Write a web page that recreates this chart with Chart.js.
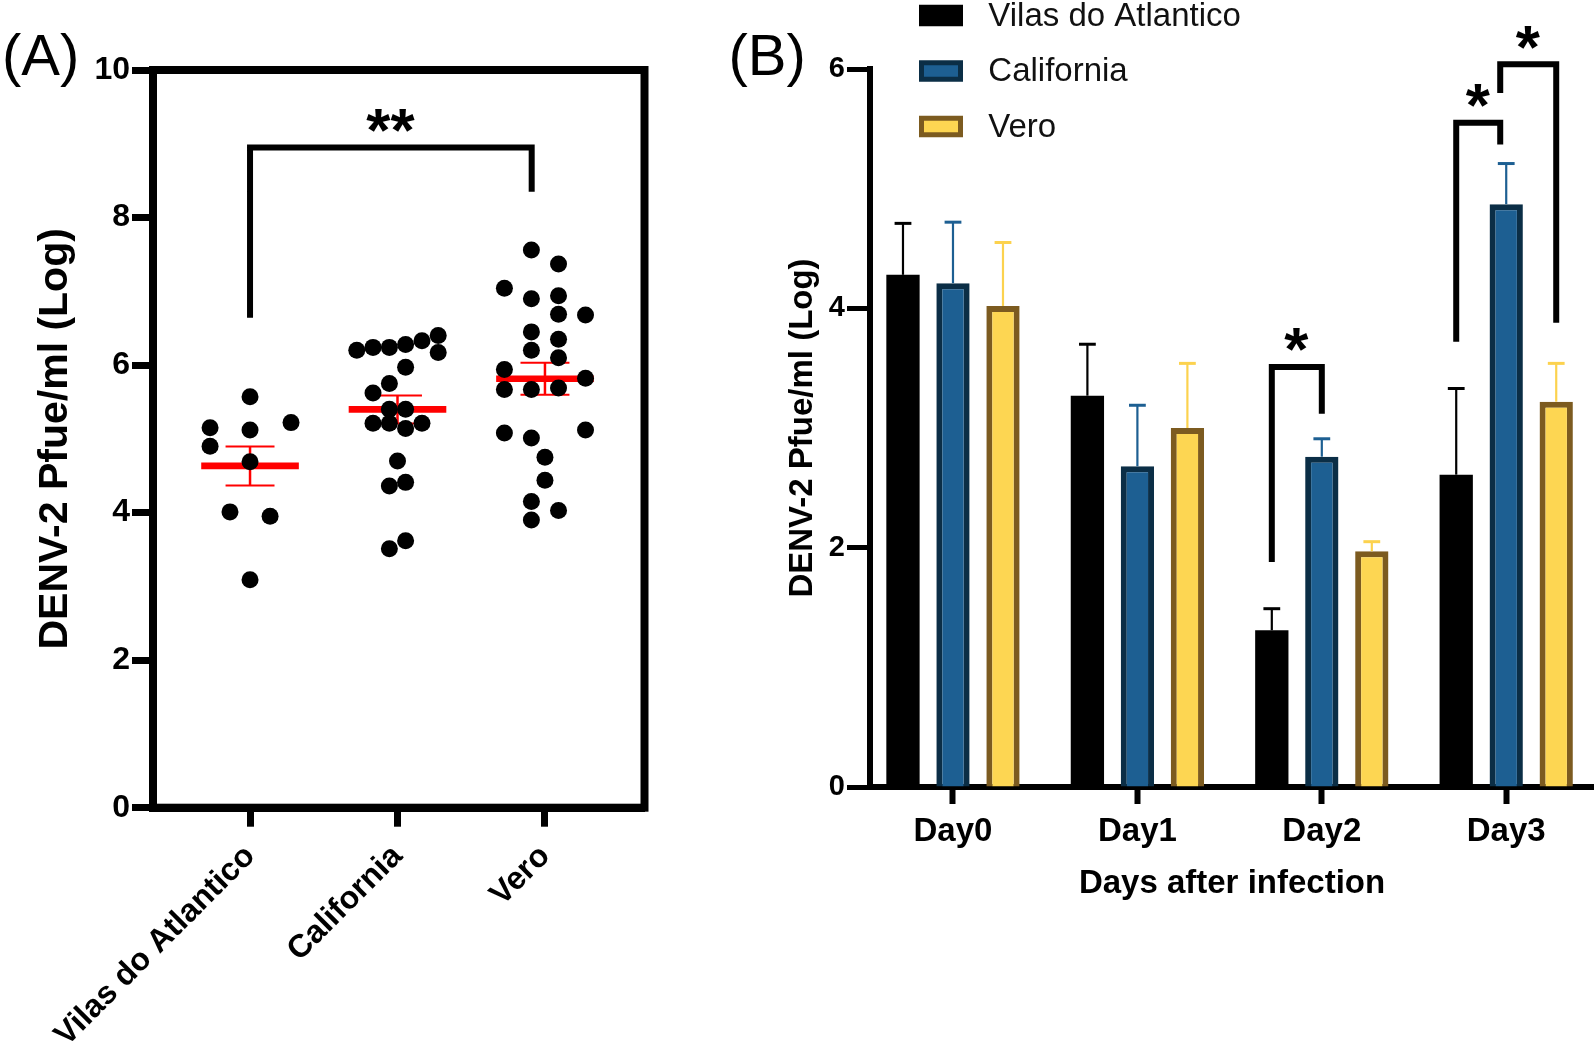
<!DOCTYPE html>
<html>
<head>
<meta charset="utf-8">
<script src="https://cdn.jsdelivr.net/npm/chart.js@4.4.1/dist/chart.umd.min.js"></script>
<style>
  html, body { margin: 0; padding: 0; background: #fff; }
  #wrapA { position: absolute; left: 0; top: 0; width: 690px; height: 1047px; }
  #wrapB { position: absolute; left: 700px; top: 0; width: 894px; height: 1047px; }
</style>
</head>
<body>
<div id="wrapA"><canvas id="chartA" width="690" height="1047"></canvas></div>
<div id="wrapB"><canvas id="chartB" width="894" height="1047"></canvas></div>
<script>
// ---- panel A: individual titres per population ----
var groupsA = ['Vilas do Atlantico', 'California', 'Vero'];

var vilasValues = [5.57, 5.15, 5.12, 5.22, 4.90, 4.69, 4.01, 3.95, 3.09];
var vilasSpread = [0, -0.271, 0, 0.278, -0.271, 0, -0.136, 0.136, 0];

var califValues = [6.20, 6.24, 6.24, 6.28, 6.33, 6.40, 6.17, 5.97, 5.75, 5.62, 5.40,
                   5.40, 5.21, 5.21, 5.14, 5.21, 4.70, 4.36, 4.41, 3.51, 3.62];
var califSpread = [-0.276, -0.166, -0.055, 0.055, 0.166, 0.276, 0.276, 0.055, -0.055, -0.166, -0.055,
                   0.055, -0.166, -0.055, 0.055, 0.166, 0, -0.055, 0.055, -0.055, 0.055];

var veroValues = [7.56, 7.37, 7.04, 6.90, 6.94, 6.69, 6.68, 6.45, 6.35, 6.20, 6.10, 5.94,
                  5.82, 5.67, 5.67, 5.69, 5.08, 5.12, 5.01, 4.75, 4.44, 4.15, 4.03, 3.90];
var veroSpread = [-0.092, 0.092, -0.275, -0.092, 0.092, 0.092, 0.275, -0.092, 0.092, -0.092, 0.092, -0.275,
                  0.275, -0.275, -0.092, 0.092, -0.275, 0.275, -0.092, 0, 0, -0.092, 0.092, -0.092];

var yTicksA = [0, 2, 4, 6, 8, 10];

// significance bracket A (x in group units, y in log units)
var bracketA = { from: 0, to: 1.91, top: 8.95, leftEnd: 6.64, rightEnd: 8.35, label: '**' };

// ---- panel B: titre over days ----
var days = ['Day0', 'Day1', 'Day2', 'Day3'];
var seriesNames = ['Vilas do Atlantico', 'California', 'Vero'];
var vilasMean = [4.28, 3.27, 1.31, 2.61];
var vilasErr = [0.43, 0.43, 0.18, 0.72];
var califMean = [4.21, 2.68, 2.76, 4.87];
var califErr = [0.51, 0.51, 0.15, 0.34];
var veroMean = [4.02, 3.00, 1.97, 3.22];
var veroErr = [0.53, 0.54, 0.08, 0.32];
var yTicksB = [0, 2, 4, 6];

// brackets B: day index, the two series compared, heights in log units
var bracketsB = [
  { day: 2, from: 0, to: 1, top: 3.51, leftEnd: 1.88, rightEnd: 3.12, label: '*' },
  { day: 3, from: 0, to: 1, top: 5.55, leftEnd: 3.72, rightEnd: 5.37, label: '*' },
  { day: 3, from: 1, to: 2, top: 6.04, leftEnd: 5.80, rightEnd: 3.88, label: '*' }
];

var FONT = "'Liberation Sans', Arial, Helvetica, sans-serif";
Chart.defaults.font.family = FONT;
Chart.defaults.color = '#000';

function meanOf(a) {
  var s = 0;
  a.forEach(function (v) { s += v; });
  return s / a.length;
}
function semOf(a) {
  var m = meanOf(a), s = 0;
  a.forEach(function (v) { s += (v - m) * (v - m); });
  return Math.sqrt(s / (a.length - 1)) / Math.sqrt(a.length);
}

// draws text so that its ink box is centred on (cx, cy)
function inkText(ctx, text, cx, cy) {
  var m = ctx.measureText(text);
  ctx.textAlign = 'left';
  ctx.textBaseline = 'alphabetic';
  var x = cx + (m.actualBoundingBoxLeft - m.actualBoundingBoxRight) / 2;
  var y = cy + (m.actualBoundingBoxAscent - m.actualBoundingBoxDescent) / 2;
  ctx.fillText(text, x, y);
}

function drawBracket(ctx, x1, x2, yTop, y1, y2, label) {
  ctx.save();
  ctx.strokeStyle = '#000';
  ctx.lineWidth = 6;
  ctx.lineJoin = 'miter';
  ctx.lineCap = 'butt';
  ctx.beginPath();
  ctx.moveTo(x1, y1);
  ctx.lineTo(x1, yTop);
  ctx.lineTo(x2, yTop);
  ctx.lineTo(x2, y2);
  ctx.stroke();
  ctx.fillStyle = '#000';
  ctx.font = 'bold 62px ' + FONT;
  inkText(ctx, label, (x1 + x2) / 2, yTop - 27);
  ctx.restore();
}

function dots(values, spread, g) {
  return values.map(function (v, i) { return { x: g + spread[i], y: v }; });
}

var groupValues = [vilasValues, califValues, veroValues];

var panelAPlugin = {
  id: 'panelA',
  beforeDatasetsDraw: function (chart) {
    var ctx = chart.ctx, xs = chart.scales.x, ys = chart.scales.y;
    ctx.save();
    ctx.strokeStyle = '#ff0000';
    groupValues.forEach(function (vals, g) {
      var m = meanOf(vals), e = semOf(vals);
      var ym = ys.getPixelForValue(m), yHi = ys.getPixelForValue(m + e), yLo = ys.getPixelForValue(m - e);
      ctx.lineWidth = 2.5;
      ctx.beginPath();
      ctx.moveTo(xs.getPixelForValue(g), yHi);
      ctx.lineTo(xs.getPixelForValue(g), yLo);
      ctx.stroke();
      ctx.lineWidth = 2;
      [yHi, yLo].forEach(function (yy) {
        ctx.beginPath();
        ctx.moveTo(xs.getPixelForValue(g - 0.166), yy);
        ctx.lineTo(xs.getPixelForValue(g + 0.166), yy);
        ctx.stroke();
      });
      ctx.lineWidth = 6.7;
      ctx.beginPath();
      ctx.moveTo(xs.getPixelForValue(g - 0.331), ym);
      ctx.lineTo(xs.getPixelForValue(g + 0.331), ym);
      ctx.stroke();
    });
    ctx.restore();
  },
  afterDraw: function (chart) {
    var ctx = chart.ctx, a = chart.chartArea, xs = chart.scales.x, ys = chart.scales.y;
    ctx.save();
    ctx.strokeStyle = '#000';
    ctx.lineWidth = 8;
    ctx.lineJoin = 'miter';
    ctx.strokeRect(a.left, a.top, a.right - a.left, a.bottom - a.top);
    ctx.fillStyle = '#000';
    ctx.font = '58px ' + FONT;
    ctx.textAlign = 'left';
    ctx.textBaseline = 'alphabetic';
    ctx.fillText('(A)', 2, 74.5);
    ctx.restore();
    var b = bracketA;
    drawBracket(ctx, xs.getPixelForValue(b.from), xs.getPixelForValue(b.to), ys.getPixelForValue(b.top),
      ys.getPixelForValue(b.leftEnd), ys.getPixelForValue(b.rightEnd), b.label);
  }
};

new Chart(document.getElementById('chartA'), {
  type: 'scatter',
  data: {
    datasets: [
      { label: groupsA[0], data: dots(vilasValues, vilasSpread, 0) },
      { label: groupsA[1], data: dots(califValues, califSpread, 1) },
      { label: groupsA[2], data: dots(veroValues, veroSpread, 2) }
    ].map(function (d) {
      d.pointRadius = 8.5;
      d.pointBackgroundColor = '#000';
      d.pointBorderWidth = 0;
      d.pointHoverRadius = 8.5;
      return d;
    })
  },
  options: {
    responsive: false,
    animation: false,
    layout: { padding: { top: 70, right: 45.5, left: 0, bottom: 0 } },
    plugins: { legend: { display: false }, tooltip: { enabled: false } },
    scales: {
      x: {
        type: 'linear',
        min: -0.658,
        max: 2.675,
        afterBuildTicks: function (s) { s.ticks = groupsA.map(function (g, i) { return { value: i }; }); },
        afterFit: function (s) { s.height = 239.3; },
        grid: { display: true, drawOnChartArea: false, drawTicks: true, tickLength: 19, tickWidth: 7, tickColor: '#000' },
        border: { display: true, width: 8, color: '#000' },
        ticks: {
          autoSkip: false, minRotation: 45, maxRotation: 45, padding: 11,
          font: { size: 32, weight: 'bold' },
          callback: function (v) { return groupsA[v]; }
        }
      },
      y: {
        min: 0,
        max: 10,
        afterBuildTicks: function (s) { s.ticks = yTicksA.map(function (v) { return { value: v }; }); },
        afterFit: function (s) { s.width = 153; },
        grid: { display: true, drawOnChartArea: false, drawTicks: true, tickLength: 21, tickWidth: 7, tickColor: '#000' },
        border: { display: true, width: 8, color: '#000' },
        ticks: { padding: 2, font: { size: 32, weight: 'bold' } },
        title: {
          display: true, text: 'DENV-2 Pfue/ml (Log)',
          font: { size: 41, weight: 'bold' }, padding: { top: 31, bottom: 0 }
        }
      }
    }
  },
  plugins: [panelAPlugin]
});

// ---- panel B ----
var panelBPlugin = {
  id: 'panelB',
  afterDatasetsDraw: function (chart) {
    var ctx = chart.ctx, ys = chart.scales.y;
    chart.data.datasets.forEach(function (ds, i) {
      var meta = chart.getDatasetMeta(i);
      meta.data.forEach(function (bar, j) {
        var top = ys.getPixelForValue(ds.data[j].y + ds.errors[j]);
        ctx.save();
        ctx.strokeStyle = ds.errorColor;
        ctx.lineWidth = 2.2;
        ctx.beginPath();
        ctx.moveTo(bar.x, bar.y);
        ctx.lineTo(bar.x, top);
        ctx.stroke();
        ctx.lineWidth = 3;
        ctx.beginPath();
        ctx.moveTo(bar.x - 8.4, top);
        ctx.lineTo(bar.x + 8.4, top);
        ctx.stroke();
        ctx.restore();
      });
    });
  },
  afterDraw: function (chart) {
    var ctx = chart.ctx, ys = chart.scales.y;
    bracketsB.forEach(function (b) {
      var l = chart.getDatasetMeta(b.from).data[b.day];
      var r = chart.getDatasetMeta(b.to).data[b.day];
      // a leg shared by two brackets on the same bar is nudged left, as in the figure
      var shared = function (series) {
        return bracketsB.filter(function (o) {
          return o.day === b.day && (o.from === series || o.to === series);
        }).length > 1;
      };
      var xl = l.x - (shared(b.from) ? 6 : 0);
      var xr = r.x - (shared(b.to) ? 6 : 0);
      drawBracket(ctx, xl, xr, ys.getPixelForValue(b.top),
        ys.getPixelForValue(b.leftEnd), ys.getPixelForValue(b.rightEnd), b.label);
    });
    // legend
    ctx.save();
    chart.data.datasets.forEach(function (ds, i) {
      var cy = 15.5 + i * 55.5;
      var bx = 219, bw = 44, bh = 21.5;
      ctx.fillStyle = ds.borderColor;
      ctx.fillRect(bx, cy - bh / 2, bw, bh);
      if (ds.borderWidth) {
        ctx.fillStyle = ds.backgroundColor;
        ctx.fillRect(bx + 5, cy - bh / 2 + 5, bw - 10, bh - 10);
      }
      ctx.fillStyle = '#111';
      ctx.font = '33px ' + FONT;
      ctx.textAlign = 'left';
      ctx.textBaseline = 'middle';
      ctx.fillText(ds.label, 288.3, cy + 1);
    });
    ctx.fillStyle = '#000';
    ctx.font = '58px ' + FONT;
    ctx.textBaseline = 'alphabetic';
    ctx.fillText('(B)', 28.5, 74.5);
    ctx.restore();
  }
};

function barData(means) {
  return means.map(function (v, i) { return { x: i, y: v }; });
}

new Chart(document.getElementById('chartB'), {
  type: 'bar',
  data: {
    datasets: [
      { label: seriesNames[0], data: barData(vilasMean), errors: vilasErr,
        backgroundColor: '#000000', borderColor: '#000000', borderWidth: 0, errorColor: '#000000' },
      { label: seriesNames[1], data: barData(califMean), errors: califErr,
        backgroundColor: '#1d5f92', borderColor: '#0b2e46', borderWidth: 6, errorColor: '#1d5f92' },
      { label: seriesNames[2], data: barData(veroMean), errors: veroErr,
        backgroundColor: '#fdd652', borderColor: '#7c5b20', borderWidth: 6, errorColor: '#fcd24e' }
    ].map(function (d) {
      d.borderSkipped = 'bottom';
      d.categoryPercentage = 0.8134;
      d.barPercentage = 0.666;
      return d;
    })
  },
  options: {
    responsive: false,
    animation: false,
    layout: { padding: { top: 69, right: 0, left: 0, bottom: 0 } },
    plugins: { legend: { display: false }, tooltip: { enabled: false } },
    scales: {
      x: {
        type: 'linear',
        offset: false,
        min: -0.45,
        max: 3.476,
        afterBuildTicks: function (s) { s.ticks = days.map(function (d, i) { return { value: i }; }); },
        afterFit: function (s) { s.height = 260; },
        grid: { display: true, offset: false, drawOnChartArea: false, drawTicks: true, tickLength: 17, tickWidth: 6, tickColor: '#000' },
        border: { display: true, width: 6, color: '#000' },
        ticks: { autoSkip: false, maxRotation: 0, padding: 8, font: { size: 33, weight: 'bold' },
          callback: function (v) { return days[v]; } },
        title: { display: true, text: 'Days after infection', font: { size: 33, weight: 'bold' },
          padding: { top: 0, bottom: 143 } }
      },
      y: {
        min: 0,
        max: 6,
        afterBuildTicks: function (s) { s.ticks = yTicksB.map(function (v) { return { value: v }; }); },
        afterFit: function (s) { s.width = 170; },
        grid: { display: true, drawOnChartArea: false, drawTicks: true, tickLength: 23, tickWidth: 5, tickColor: '#000' },
        border: { display: true, width: 6, color: '#000' },
        ticks: { padding: 2, font: { size: 29, weight: 'bold' } },
        title: { display: true, text: 'DENV-2 Pfue/ml (Log)', font: { size: 33, weight: 'bold' },
          padding: { top: 83, bottom: 0 } }
      }
    }
  },
  plugins: [panelBPlugin]
});
</script>
</body>
</html>
